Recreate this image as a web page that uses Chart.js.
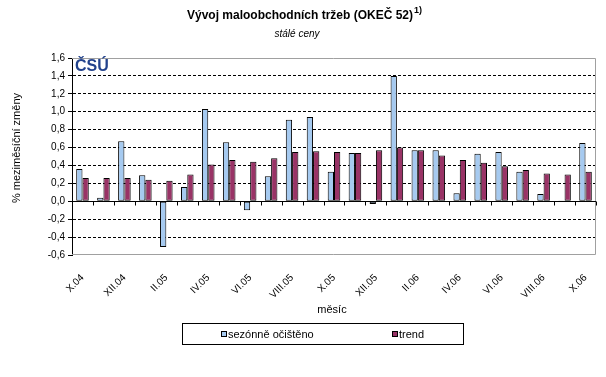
<!DOCTYPE html>
<html>
<head>
<meta charset="utf-8">
<script src="https://cdn.jsdelivr.net/npm/chart.js@4"></script>
<style>
  html, body { margin: 0; padding: 0; background: #fff; }
  #wrap { width: 606px; height: 377px; position: relative; }
</style>
</head>
<body>
<div id="wrap"><canvas id="retailChart" width="606" height="377"></canvas></div>
<script>
// months X.04 .. X.06
const months = ['X.04', 'XI.04', 'XII.04', 'I.05', 'II.05', 'III.05', 'IV.05', 'V.05', 'VI.05',
  'VII.05', 'VIII.05', 'IX.05', 'X.05', 'XI.05', 'XII.05', 'I.06', 'II.06', 'III.06', 'IV.06',
  'V.06', 'VI.06', 'VII.06', 'VIII.06', 'IX.06', 'X.06'];

// % month-on-month change
const seasonal = [0.36, 0.04, 0.67, 0.29, -0.51, 0.16, 1.03, 0.66, -0.10, 0.28, 0.91, 0.94, 0.33,
  0.54, -0.03, 1.40, 0.57, 0.57, 0.09, 0.53, 0.55, 0.33, 0.08, 0.01, 0.65];
const trend = [0.26, 0.26, 0.26, 0.24, 0.23, 0.30, 0.41, 0.46, 0.44, 0.48, 0.55, 0.56, 0.55,
  0.54, 0.57, 0.60, 0.57, 0.51, 0.46, 0.43, 0.39, 0.35, 0.31, 0.30, 0.33];

const seriesNames = ['sezónně očištěno', 'trend'];
const seriesColors = ['#a6caf0', '#993366'];

const FONT = '"Liberation Sans", Arial, sans-serif';

// frame, zero line, titles, logo and the boxed legend
const decorPlugin = {
  id: 'decor',
  afterDatasetsDraw(chart) {
    const { ctx, chartArea: a, scales } = chart;
    const x = scales.x, y = scales.y;
    ctx.save();
    // grey frame top/right/bottom
    ctx.strokeStyle = '#a0a0a0';
    ctx.lineWidth = 1;
    ctx.beginPath();
    ctx.moveTo(a.left, a.top + 0.5);
    ctx.lineTo(a.right - 0.5, a.top + 0.5);
    ctx.lineTo(a.right - 0.5, a.bottom - 0.5);
    ctx.lineTo(a.left, a.bottom - 0.5);
    ctx.stroke();

    // zero axis with category ticks
    const y0 = Math.round(y.getPixelForValue(0)) + 0.5;
    const half = (x.getPixelForValue(1) - x.getPixelForValue(0)) / 2;
    ctx.strokeStyle = '#000';
    ctx.beginPath();
    ctx.moveTo(a.left, y0);
    ctx.lineTo(a.right, y0);
    for (let i = 0; i <= months.length; i++) {
      const px = Math.round(x.getPixelForValue(i) - half) + 0.5;
      ctx.moveTo(px, y0);
      ctx.lineTo(px, y0 + 4);
    }
    ctx.stroke();

    // logo
    ctx.fillStyle = '#22428c';
    ctx.font = 'bold 16px ' + FONT;
    ctx.textAlign = 'left';
    ctx.textBaseline = 'top';
    ctx.fillText('ČSÚ', a.left + 3, a.top + 1);
    ctx.restore();
  },
  afterDraw(chart) {
    const { ctx } = chart;
    ctx.save();
    ctx.fillStyle = '#000';
    ctx.textBaseline = 'middle';

    // title with superscript
    const title = 'Vývoj maloobchodních tržeb (OKEČ 52)';
    ctx.font = 'bold 12px ' + FONT;
    const tw = ctx.measureText(title).width;
    ctx.font = 'bold 9px ' + FONT;
    const sw = ctx.measureText('1)').width;
    const tx = 304 - (tw + sw) / 2;
    ctx.font = 'bold 12px ' + FONT;
    ctx.textAlign = 'left';
    ctx.fillText(title, tx, 16);
    ctx.font = 'bold 9px ' + FONT;
    ctx.fillText('1)', tx + tw + 1, 11);

    ctx.font = 'italic 10px ' + FONT;
    ctx.textAlign = 'center';
    ctx.fillText('stálé ceny', 297, 34);

    // axis titles
    ctx.font = '11px ' + FONT;
    ctx.fillText('měsíc', 332, 310);
    ctx.save();
    ctx.translate(17, 148);
    ctx.rotate(-Math.PI / 2);
    ctx.fillText('% meziměsíční změny', 0, 0);
    ctx.restore();

    // legend box
    ctx.strokeStyle = '#000';
    ctx.lineWidth = 1;
    ctx.strokeRect(182.5, 323.5, 281, 21);
    const itemX = [221, 392];
    ctx.font = '11px ' + FONT;
    ctx.textAlign = 'left';
    chart.data.datasets.forEach((ds, i) => {
      const ix = itemX[i];
      ctx.fillStyle = ds.backgroundColor;
      ctx.fillRect(ix, 331, 5, 5);
      ctx.strokeStyle = '#000';
      ctx.strokeRect(ix + 0.5, 331.5, 5, 5);
      ctx.fillStyle = '#000';
      ctx.fillText(ds.label, ix + 7, 335);
    });
    ctx.restore();
  }
};

const ctx = document.getElementById('retailChart').getContext('2d');

new Chart(ctx, {
  type: 'bar',
  data: {
    labels: months,
    datasets: [
      {
        label: seriesNames[0],
        data: seasonal,
        backgroundColor: seriesColors[0],
        borderColor: '#000',
        borderWidth: 1,
        borderSkipped: false
      },
      {
        label: seriesNames[1],
        data: trend,
        backgroundColor: seriesColors[1],
        borderColor: '#000',
        borderWidth: 1,
        borderSkipped: false
      }
    ]
  },
  options: {
    responsive: false,
    animation: false,
    devicePixelRatio: 1,
    layout: {
      padding: { top: 58, right: 10, left: 0, bottom: 0 }
    },
    datasets: {
      bar: { categoryPercentage: 0.6, barPercentage: 1.0 }
    },
    plugins: {
      legend: { display: false },
      title: { display: false },
      tooltip: { enabled: false }
    },
    scales: {
      x: {
        grid: { display: false },
        border: { display: false },
        ticks: {
          autoSkip: false,
          maxRotation: 45,
          minRotation: 45,
          padding: 9,
          color: '#000',
          font: { family: FONT, size: 10 },
          callback: function (v, i) { return i % 2 === 0 ? months[i] : ''; }
        },
        afterFit: function (scale) { scale.height = 122; }
      },
      y: {
        min: -0.6,
        max: 1.6,
        border: { display: true, color: '#000', width: 1, dash: [3, 2] },
        grid: {
          color: function (c) {
            const v = c.tick ? c.tick.value : 0;
            if (Math.abs(v) < 1e-6 || v > 1.59 || v < -0.59) return 'rgba(0,0,0,0)';
            return '#000';
          },
          tickColor: '#000',
          tickLength: 4,
          lineWidth: 1
        },
        ticks: {
          stepSize: 0.2,
          padding: 3,
          color: '#000',
          font: { family: FONT, size: 10 },
          callback: function (v) {
            return (Math.round(v * 10) / 10).toFixed(1).replace('.', ',');
          }
        },
        afterFit: function (scale) { scale.width = 72; }
      }
    }
  },
  plugins: [decorPlugin]
});
</script>
</body>
</html>
